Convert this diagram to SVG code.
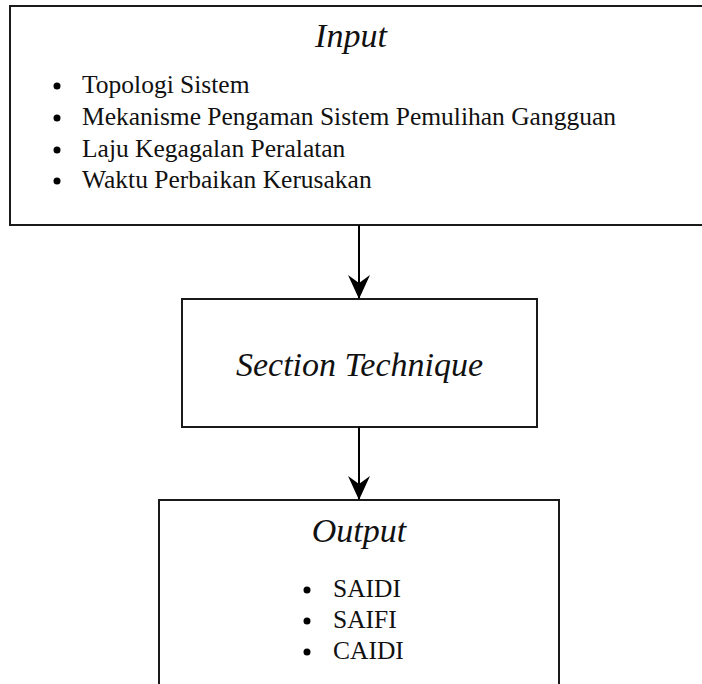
<svg xmlns="http://www.w3.org/2000/svg" width="702" height="684" viewBox="0 0 702 684">
<style>
.box{fill:#fff;stroke:#1a1a1a;stroke-width:2}
.t{font-family:"Liberation Serif","Times New Roman",serif;fill:#111}
.h{font-style:italic;font-size:34px}
.li{font-size:25.5px}
.b{fill:#000}
.c{stroke:#000;stroke-width:2;fill:none}
</style>
<defs>
<marker id="ah" viewBox="0 0 24 22" refX="23" refY="11" markerWidth="24" markerHeight="22" markerUnits="userSpaceOnUse" orient="auto">
<path d="M0,0 L24,11 L0,22 L8,11 Z" fill="#000"/>
</marker>
</defs>
<rect width="702" height="684" fill="#fff"/>
<g id="input">
<rect class="box" x="10" y="6" width="710" height="219"/>
<text class="t h" x="351" y="47" text-anchor="middle">Input</text>
<circle class="b" cx="57" cy="86" r="3.5"/>
<text class="t li" x="82" y="93">Topologi Sistem</text>
<circle class="b" cx="57" cy="118" r="3.5"/>
<text class="t li" x="82" y="125">Mekanisme Pengaman Sistem Pemulihan Gangguan</text>
<circle class="b" cx="57" cy="150" r="3.5"/>
<text class="t li" x="82" y="157">Laju Kegagalan Peralatan</text>
<circle class="b" cx="57" cy="181" r="3.5"/>
<text class="t li" x="82" y="188">Waktu Perbaikan Kerusakan</text>
</g>
<g id="section">
<rect class="box" x="182" y="299" width="355" height="128"/>
<text class="t h" x="359.5" y="376" text-anchor="middle">Section Technique</text>
</g>
<g id="output">
<rect class="box" x="159" y="500" width="400" height="200"/>
<text class="t h" x="359" y="542" text-anchor="middle">Output</text>
<circle class="b" cx="307" cy="590" r="3.5"/>
<text class="t li" x="333" y="597">SAIDI</text>
<circle class="b" cx="307" cy="621" r="3.5"/>
<text class="t li" x="333" y="628">SAIFI</text>
<circle class="b" cx="307" cy="652" r="3.5"/>
<text class="t li" x="333" y="659">CAIDI</text>
</g>
<g id="connectors">
<path class="c" d="M359,225 V298" marker-end="url(#ah)"/>
<path class="c" d="M359,427 V499" marker-end="url(#ah)"/>
</g>
</svg>
